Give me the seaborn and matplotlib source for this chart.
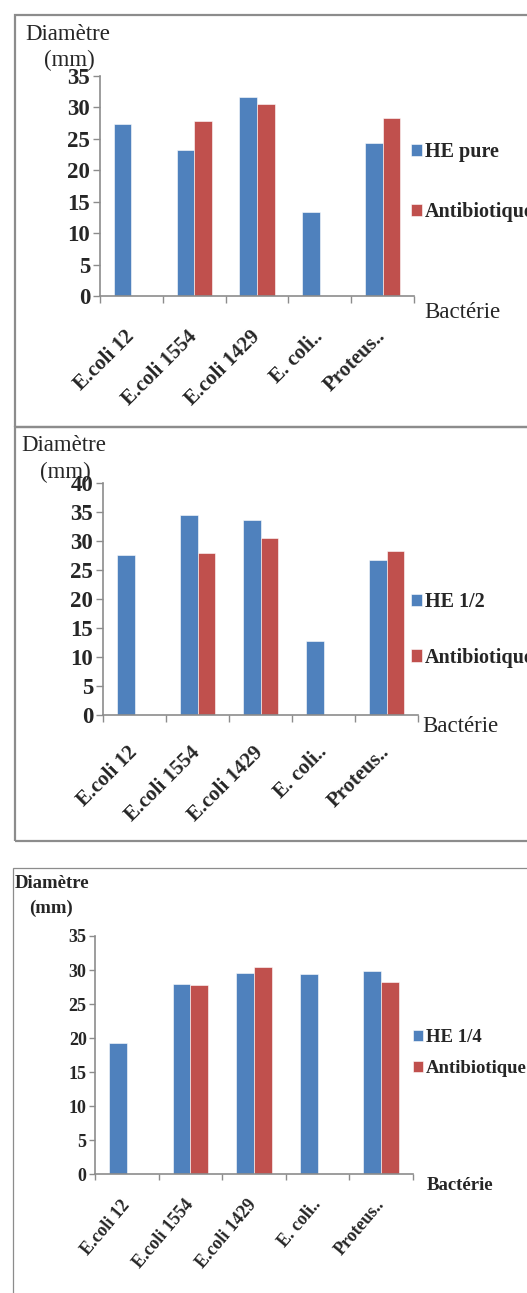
import numpy as np
import pandas as pd
import seaborn as sns
import matplotlib.pyplot as plt
from matplotlib.patches import Rectangle, Patch

# ---- data -------------------------------------------------------------
bacteries = ["E.coli 12", "E.coli 1554", "E.coli 1429", "E. coli..", "Proteus.."]
he_pure = [27.4, 23.3, 31.6, 13.3, 24.3]
he_demi = [27.6, 34.5, 33.6, 12.7, 26.7]
he_quart = [19.3, 28.0, 29.6, 29.4, 29.9]
antibiotique = [np.nan, 27.8, 30.5, np.nan, 28.3]

serie_labels = ["HE pure", "HE 1/2", "HE 1/4"]
ref_label = "Antibiotique"
y_label_1 = "Diamètre"
y_label_2 = "(mm)"
x_label = "Bactérie"

BLUE = "#4F81BD"
RED = "#C0504D"
GRAY = "#8C8C8C"

W, H = 527, 1293
sns.set_theme(style="white")
plt.rcParams["font.family"] = ["Liberation Serif", "DejaVu Serif"]

fig = plt.figure(figsize=(W / 100, H / 100), dpi=100)


def fx(x):
    return x / W


def fy(y):
    return 1 - y / H


def panel(values, label, box, ax_px, ymax, tick_fs, cat_fs, cat_rot, cat_pad,
          title_fs, title_weight, title_pos, leg_pos, leg_fs, leg_spacing,
          xlab_pos, frame_lw, tick_len):
    # outer frame of the chart object
    x0, y0, x1, y1 = box
    fig.add_artist(Rectangle((fx(x0), fy(y1)), fx(x1 - x0), (y1 - y0) / H,
                             transform=fig.transFigure, fill=False,
                             edgecolor=GRAY, lw=frame_lw, clip_on=False))

    left, top, right, bottom = ax_px
    ax = fig.add_axes([fx(left), fy(bottom), fx(right - left), (bottom - top) / H])

    df = pd.DataFrame({
        "Bactérie": bacteries * 2,
        "Diamètre": list(values) + list(antibiotique),
        "Série": [label] * len(bacteries) + [ref_label] * len(bacteries),
    })
    sns.barplot(data=df, x="Bactérie", y="Diamètre", hue="Série",
                hue_order=[label, ref_label], palette=[BLUE, RED],
                saturation=1, width=0.56, gap=0, errorbar=None, legend=False,
                ax=ax, edgecolor="white", linewidth=0.4)

    ax.set_xlim(-0.5, len(bacteries) - 0.5)
    ax.set_ylim(0, ymax)
    ax.set_xlabel("")
    ax.set_ylabel("")
    ax.set_yticks(np.arange(0, ymax + 1, 5))
    ax.set_xticks(range(len(bacteries)))
    ax.set_xticks(np.arange(-0.5, len(bacteries)), minor=True)
    ax.set_xticklabels(bacteries, rotation=cat_rot, ha="right", va="center",
                       rotation_mode="anchor", fontsize=cat_fs, fontweight="bold")
    for t in ax.get_yticklabels():
        t.set_fontsize(tick_fs)
        t.set_fontweight("bold")

    for s in ["top", "right"]:
        ax.spines[s].set_visible(False)
    for s in ["left", "bottom"]:
        ax.spines[s].set_color(GRAY)
        ax.spines[s].set_linewidth(1.2)
    ax.tick_params(axis="y", which="major", direction="out", length=tick_len,
                   width=1.0, color=GRAY, pad=2, left=True)
    ax.tick_params(axis="x", which="major", length=0, pad=cat_pad, bottom=True)
    ax.tick_params(axis="x", which="minor", direction="out", length=tick_len,
                   width=1.0, color=GRAY, bottom=True)
    ax.grid(False)
    ax.patch.set_alpha(0)

    # axis titles
    (dx, dy), (mx, my) = title_pos
    fig.text(fx(dx), fy(dy), y_label_1, ha="center", va="center",
             fontsize=title_fs, fontweight=title_weight)
    fig.text(fx(mx), fy(my), y_label_2, ha="center", va="center",
             fontsize=title_fs, fontweight=title_weight)
    fig.text(fx(xlab_pos[0]), fy(xlab_pos[1]), x_label, ha="left", va="center",
             fontsize=title_fs, fontweight=title_weight)

    handles = [Patch(facecolor=BLUE, edgecolor="white", lw=0.4, label=label),
               Patch(facecolor=RED, edgecolor="white", lw=0.4, label=ref_label)]
    fig.legend(handles=handles, loc="center left",
               bbox_to_anchor=(fx(leg_pos[0]), fy(leg_pos[1])),
               frameon=False, borderpad=0, borderaxespad=0,
               handlelength=0.55, handleheight=0.55, handletextpad=0.15,
               labelspacing=leg_spacing,
               prop={"family": "Liberation Serif", "weight": "bold",
                     "size": leg_fs})
    return ax


# HE pure
panel(he_pure, serie_labels[0], box=(15, 15, 560, 427),
      ax_px=(100, 76, 414, 296), ymax=35, tick_fs=16.5, cat_fs=15, cat_rot=45,
      cat_pad=27, title_fs=16.5, title_weight="normal",
      title_pos=((68, 35), (69, 60)), leg_pos=(411, 182), leg_fs=14.5,
      leg_spacing=2.0, xlab_pos=(424, 312), frame_lw=1.6, tick_len=5)

# HE 1/2
panel(he_demi, serie_labels[1], box=(15, 427, 560, 841),
      ax_px=(103, 482.7, 418, 714.7), ymax=40, tick_fs=16.5, cat_fs=15,
      cat_rot=45, cat_pad=25, title_fs=16.5, title_weight="normal",
      title_pos=((64, 446), (65, 472)), leg_pos=(411, 630), leg_fs=14.5,
      leg_spacing=1.75, xlab_pos=(422, 727), frame_lw=1.6, tick_len=5)

# HE 1/4
panel(he_quart, serie_labels[2], box=(13, 868, 560, 1320),
      ax_px=(95, 936, 413, 1174.3), ymax=35, tick_fs=13, cat_fs=13,
      cat_rot=50, cat_pad=20, title_fs=13.5, title_weight="bold",
      title_pos=((52, 883), (51, 908)), leg_pos=(413, 1053), leg_fs=13.5,
      leg_spacing=0.75, xlab_pos=(427, 1185), frame_lw=0.9, tick_len=4)

fig.savefig("out.png", dpi=100)
